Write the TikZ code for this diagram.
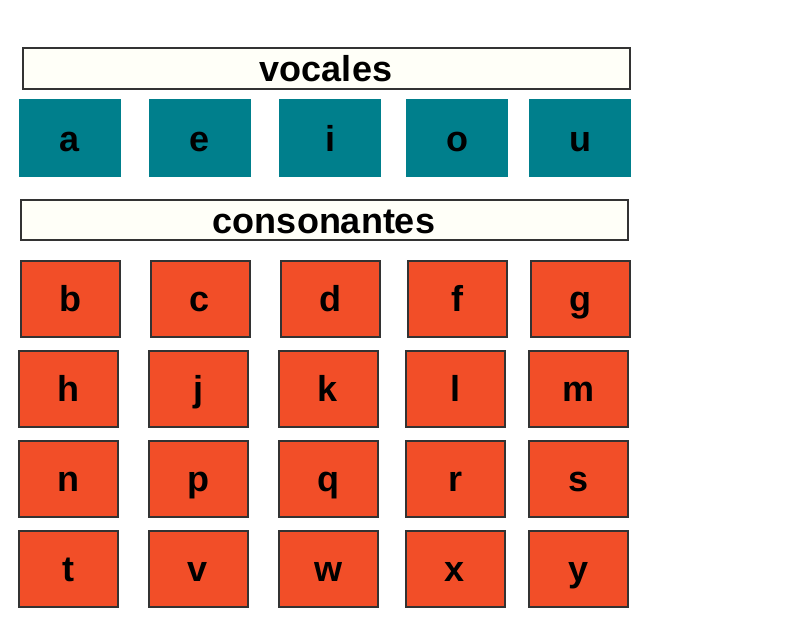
\documentclass[tikz,border=0pt]{standalone}
\usepackage{fontspec}
\setmainfont{Liberation Sans}
\definecolor{teal1}{RGB}{0,127,140}
\definecolor{orng}{RGB}{242,78,40}
\definecolor{ivory1}{RGB}{255,255,248}
\definecolor{edge}{RGB}{51,51,51}
\begin{document}
\begin{tikzpicture}[x=1pt,y=-1pt,
  lbl/.style={inner sep=0pt,font=\fontsize{36}{40}\selectfont\bfseries,text height=30pt,text depth=4pt},
  titlebox/.style={lbl,draw=edge,line width=2pt,fill=ivory1,minimum width=607pt,minimum height=40pt},
  vowel/.style={lbl,fill=teal1,minimum width=102pt,minimum height=78pt},
  cons/.style={lbl,draw=edge,line width=2pt,fill=orng,minimum width=99pt,minimum height=76pt}]
\useasboundingbox (0,0) rectangle (791,626);
\node[titlebox] (voc) at (326,68.5) {vocales};
\foreach \n/\x in {a/70,e/200,i/330,o/457,u/580}
  \node[vowel] (\n) at (\x,138) {\n};
\node[titlebox] (con) at (324,220) {consonantes};
\foreach \n/\x in {b/70,c/200,d/330,f/457,g/580}
  \node[cons] (\n) at (\x,298.5) {\n};
\foreach \n/\x in {h/68,j/198,k/328,l/455,m/578}
  \node[cons] (\n) at (\x,388.5) {\n};
\foreach \n/\x in {n/68,p/198,q/328,r/455,s/578}
  \node[cons] (\n) at (\x,478.5) {\n};
\foreach \n/\x in {t/68,v/198,w/328,x/455,y/578}
  \node[cons] (\n) at (\x,568.5) {\n};
\end{tikzpicture}
\end{document}
